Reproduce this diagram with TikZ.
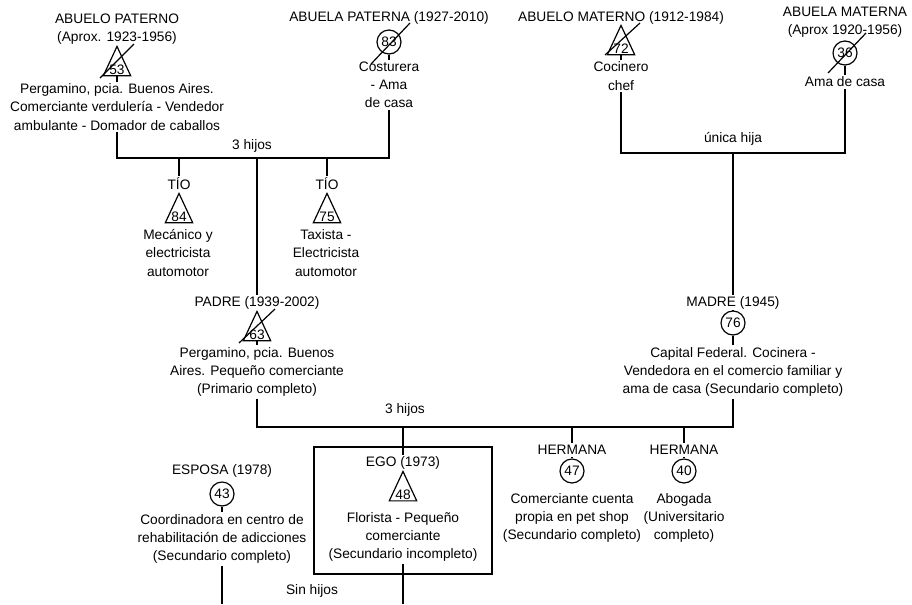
\documentclass[tikz,border=0pt]{standalone}
\usepackage{fontspec}
\setmainfont{Liberation Sans}
\usetikzlibrary{calc,shapes.geometric}

\begin{document}
\begin{tikzpicture}[
    x=0.75pt, y=-0.75pt, line width=0.9pt,
    every node/.style={font=\fontsize{10.3}{13.7}\selectfont},
    texto/.style={align=center, inner sep=1pt},
    varon/.style={draw, isosceles triangle, shape border rotate=90,
        isosceles triangle apex angle=50, inner sep=0.6pt, anchor=apex},
    mujer/.style={draw, circle, minimum size=18pt, inner sep=0pt},
    caja/.style={draw, minimum width=133.5pt, minimum height=95.25pt}
]
\useasboundingbox (0,0) rectangle (912,604);

% abuelos paternos
\node[texto] (abuPL) at (117,29) {ABUELO PATERNO\\(Aprox. 1923-1956)};
\node[varon] (abuPS) at (117,45) {53};
\node[texto] (abuPD) at (117,107) {Pergamino, pcia. Buenos Aires.\\Comerciante verdulería - Vendedor\\ambulante - Domador de caballos};
\draw ($(abuPS.apex)+(-17,33)$) -- ($(abuPS.apex)+(17,-1)$);
\draw (abuPS.lower side) -- (abuPD.north);

\node[texto] (abaPL) at (389,18) {ABUELA PATERNA (1927-2010)};
\node[mujer] (abaPS) at (389,42) {83};
\node[texto] (abaPD) at (389,85) {Costurera\\- Ama\\de casa};
\draw ($(abaPS.center)+(-18,22)$) -- ($(abaPS.center)+(21,-19)$);
\draw (abaPS.south) -- (abaPD.north);

% abuelos maternos
\node[texto] (abuML) at (621,18) {ABUELO MATERNO (1912-1984)};
\node[varon] (abuMS) at (621,24) {72};
\node[texto] (abuMD) at (621,76) {Cocinero\\chef};
\draw ($(abuMS.apex)+(-16,31)$) -- ($(abuMS.apex)+(19,-1)$);
\draw (abuMS.lower side) -- (abuMD.north);

\node[texto] (abaML) at (845,22) {ABUELA MATERNA\\(Aprox 1920-1956)};
\node[mujer] (abaMS) at (845,53) {36};
\node[texto] (abaMD) at (845,82) {Ama de casa};
\draw ($(abaMS.center)+(-17,20)$) -- ($(abaMS.center)+(21,-20)$);
\draw (abaMS.south) -- (abaMD.north);

% hijos paternos
\coordinate (hijosP) at (257,158);
\draw (abuPD.south) |- (hijosP) -| (abaPD.south);
\node at (252,146) {3 hijos};

\node[texto] (tio1L) at (179,184) {TÍO};
\node[varon] (tio1S) at (179,192) {84};
\node[texto] (tio1D) at (178,253) {Mecánico y\\electricista\\automotor};
\draw (tio1L.north) -- (tio1L.north |- hijosP);

\node[texto] (tio2L) at (327,184) {TÍO};
\node[varon] (tio2S) at (327,192) {75};
\node[texto] (tio2D) at (326,253) {Taxista -\\Electricista\\automotor};
\draw (tio2L.north) -- (tio2L.north |- hijosP);

% hija materna
\coordinate (hijaM) at (733,153);
\draw (abuMD.south) |- (hijaM) -| (abaMD.south);
\node at (733,139) {única hija};

% padres
\node[texto] (padreL) at (257,303) {PADRE (1939-2002)};
\node[varon] (padreS) at (257,310) {63};
\node[texto] (padreD) at (257,372) {Pergamino, pcia. Buenos\\Aires. Pequeño comerciante\\(Primario completo)};
\draw ($(padreS.apex)+(-18,33)$) -- ($(padreS.apex)+(18,-1)$);
\draw (padreS.lower side) -- (padreD.north);
\draw (hijosP) -- (padreL.north);

\node[texto] (madreL) at (733,303) {MADRE (1945)};
\node[mujer] (madreS) at (733,323) {76};
\node[texto] (madreD) at (733,372) {Capital Federal. Cocinera -\\Vendedora en el comercio familiar y\\ama de casa (Secundario completo)};
\draw (madreL.south) -- (madreS.north);
\draw (madreS.south) -- (madreD.north);
\draw (hijaM) -- (madreL.north);

% hijos de los padres
\coordinate (hijosPM) at (403,427);
\draw (padreD.south) |- (hijosPM) -| (madreD.south);
\node at (405,410) {3 hijos};

\node[caja] (egoC) at (403,510.5) {};
\node[texto] (egoL) at (403,463) {EGO (1973)};
\node[varon] (egoS) at (403,470) {48};
\node[texto] (egoD) at (403,537) {Florista - Pequeño\\comerciante\\(Secundario incompleto)};
\draw (hijosPM) -- (egoL.north);
\coordinate (egoF) at (403,604);
\draw (egoD.south) -- (egoF);

\node[texto] (her1L) at (572,450) {HERMANA};
\node[mujer] (her1S) at (572,471) {47};
\node[texto] (her1D) at (572,518) {Comerciante cuenta\\propia en pet shop\\(Secundario completo)};
\draw (her1L.north) -- (her1L.north |- hijosPM);
\draw (her1L.south) -- (her1S.north);

\node[texto] (her2L) at (684,450) {HERMANA};
\node[mujer] (her2S) at (684,471) {40};
\node[texto] (her2D) at (684,518) {Abogada\\(Universitario\\completo)};
\draw (her2L.north) -- (her2L.north |- hijosPM);
\draw (her2L.south) -- (her2S.north);

% esposa
\node[texto] (esposaL) at (222,471) {ESPOSA (1978)};
\node[mujer] (esposaS) at (222,494) {43};
\node[texto] (esposaD) at (222,539) {Coordinadora en centro de\\rehabilitación de adicciones\\(Secundario completo)};
\draw (esposaS.south) -- (esposaD.north);
\coordinate (esposaF) at (222,604);
\draw (esposaD.south) -- (esposaF);
\node at (312,591) {Sin hijos};
\end{tikzpicture}
\end{document}
